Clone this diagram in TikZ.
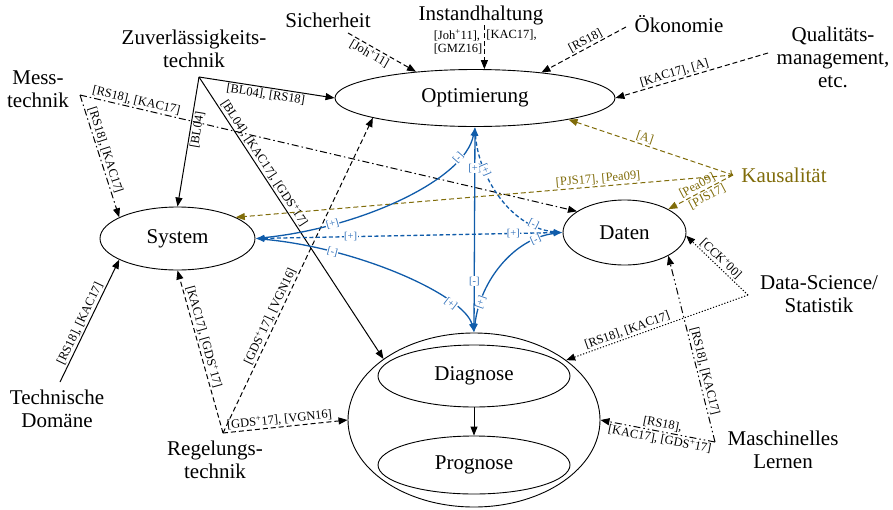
\documentclass[tikz,border=0pt]{standalone}
\usepackage{fontspec}
\setmainfont{Liberation Serif}
\usetikzlibrary{shapes.geometric,arrows.meta}
\definecolor{olv}{RGB}{128,108,10}
\definecolor{blu}{RGB}{16,92,170}
\definecolor{blul}{RGB}{45,110,185}
\begin{document}
\begin{tikzpicture}[x=1pt,y=-1pt,
  ell/.style={draw, ellipse, inner sep=0pt, line width=0.9pt, font=\fontsize{21}{24}\selectfont},
  big/.style={font=\fontsize{21}{23}\selectfont, align=center, inner sep=0pt},
  lbl/.style={font=\fontsize{12.5}{13.5}\selectfont, inner sep=1.5pt, sloped},
  lbln/.style={font=\fontsize{12.5}{13.5}\selectfont, inner sep=1.5pt},
  con/.style={line width=1pt, -{Triangle[length=9pt,width=7pt]}},
  dsh/.style={con, dash pattern=on 5pt off 3pt},
  ddot/.style={con, dash pattern=on 7pt off 3pt on 1.5pt off 3pt},
  dddot/.style={con, dash pattern=on 7pt off 3pt on 1.5pt off 3pt on 1.5pt off 3pt},
  dott/.style={con, dash pattern=on 1.2pt off 1.8pt},
  olvline/.style={olv, line width=1pt, dash pattern=on 5pt off 3pt},
  bl/.style={blu, line width=1.3pt, {Latex[length=9pt,width=6pt]}-{Latex[length=9pt,width=6pt]}},
  bld/.style={bl, dash pattern=on 4pt off 2.5pt},
  bll/.style={font=\fontsize{10.5}{10.5}\selectfont, text=blul, fill=white, inner sep=0.4pt},
]
\useasboundingbox (0,0) rectangle (893,509);

% main ellipses
\node[ell, minimum width=280pt, minimum height=57pt] (opt) at (475,98) {Optimierung};
\node[ell, minimum width=155pt, minimum height=63pt] (sys) at (177.5,238.5) {System};
\node[ell, minimum width=123pt, minimum height=65pt] (dat) at (624.5,232.5) {Daten};
\node[ell, minimum width=252pt, minimum height=174pt] (dia) at (474,420) {};
\node[ell, minimum width=192pt, minimum height=62pt] (diag) at (474,376) {Diagnose};
\node[ell, minimum width=192pt, minimum height=58pt] (prog) at (474,465) {Prognose};

% text nodes
\node[big] (sich) at (328,20) {Sicherheit};
\node[big] (inst) at (481,15) {Instandhaltung};
\node[big] (oek) at (679,24) {Ökonomie};
\node[big] (qual) at (833,57) {Qualitäts-\\management,\\etc.};
\node[big] (zuv) at (194,49) {Zuverlässigkeits-\\technik};
\node[big] (mess) at (38,89) {Mess-\\technik};
\node[big, text=olv] (kau) at (784,175) {Kausalität};
\node[big] (ds) at (819,294) {Data-Science/\\Statistik};
\node[big] (ml) at (783,450) {Maschinelles\\Lernen};
\node[big] (tech) at (57,409) {Technische\\Domäne};
\node[big] (reg) at (215,460) {Regelungs-\\technik};

% corner points
\coordinate (sich-c) at (348,33);
\coordinate (oek-c) at (626,27);
\coordinate (qual-c) at (768,53);
\coordinate (inst-c) at (484,25);
\coordinate (zuv-c) at (199,77);
\coordinate (mess-c) at (80,95);
\coordinate (kau-c) at (733,175);
\coordinate (ds-c) at (748,295);
\coordinate (ml-c) at (715,442);
\coordinate (tech-c) at (60,382);
\coordinate (reg-c) at (223,433);

% black connectors
\draw[dsh] (sich-c) -- (opt.156) node[lbl,pos=.37,below]{[Joh\textsuperscript{+}11]};
\draw[dsh] (opt.72 |- inst-c) -- (opt.72)
  node[lbln,pos=.39,left,align=left]{[Joh\textsuperscript{+}11],\\{}[GMZ16]}
  node[lbln,pos=.22,right]{[KAC17],};
\draw[dsh] (oek-c) -- (opt.21) node[lbl,pos=.44,above]{[RS18]};
\draw[dsh] (qual-c) -- (opt.0) node[lbl,pos=.6,above]{[KAC17], [A]};
\draw[con] (zuv-c) -- (opt.180) node[lbl,pos=.5,below]{[BL04], [RS18]};
\draw[con] (zuv-c) -- (sys.90) node[lbl,pos=.4,below]{[BL04]};
\draw[con] (zuv-c) -- (dia.146.5) node[lbl,pos=.32,above]{[BL04], [KAC17], [GDS\textsuperscript{+}17]};
\draw[ddot] (mess-c) -- (dat.156.5) node[lbl,pos=.11,above]{[RS18], [KAC17]};
\draw[ddot] (mess-c) -- (sys.160) node[lbl,pos=.47,above]{[RS18], [KAC17]};
\draw[con] (tech-c) -- (sys.200) node[lbl,pos=.45,above]{[RS18], [KAC17]};
\draw[dsh] (reg-c) -- (sys.-90) node[lbl,pos=.58,above]{[KAC17], [GDS\textsuperscript{+}17]};
\draw[dsh] (reg-c) -- (opt.191) node[lbl,pos=.36,above]{[GDS\textsuperscript{+}17], [VGN16]};
\draw[dsh] (reg-c) -- (dia.180) node[lbl,pos=.46,above]{[GDS\textsuperscript{+}17], [VGN16]};
\draw[dott] (ds-c) -- (dat.-3) node[lbl,pos=.52,above]{[CCK\textsuperscript{+}00]};
\draw[dott] (ds-c) -- (dia.33.5) node[lbl,pos=.65,above]{[RS18], [KAC17]};
\draw[dddot] (ml-c) -- (dat.-28) node[lbl,pos=.37,above]{[RS18], [KAC17]};
\draw[dddot] (ml-c) -- (dia.0)
  node[lbl,pos=.47,above]{[RS18],}
  node[lbl,pos=.47,below]{[KAC17], [GDS\textsuperscript{+}17]};
\draw[con] (diag.south) -- (prog.north);

% olive connectors
\draw[olvline, {Triangle[length=9pt,width=7pt]}-{To[length=4pt]}] (opt.-13) -- (kau-c)
  node[lbl,pos=.45,above,text=olv]{[A]};
\draw[olvline, -{Triangle[length=9pt,width=7pt]}] (kau-c) -- (sys.20)
  node[lbl,pos=.27,above,text=olv]{[PJS17], [Pea09]};
\draw[olvline, -{Triangle[length=9pt,width=7pt]}] (kau-c) -- (dat.28)
  node[lbl,pos=.5,above,text=olv]{[Pea09]}
  node[lbl,pos=.45,below,text=olv]{[PJS17]};

% blue connectors
\draw[bl] (sys.0) .. controls (360,228) and (465,180) .. (opt.-90)
  node[bll,sloped,pos=.25]{[+]} node[bll,sloped,pos=.8]{[-]};
\draw[bl] (sys.0) .. controls (360,248) and (465,296) .. (dia.90)
  node[bll,sloped,pos=.25]{[-]} node[bll,sloped,pos=.75]{[+]};
\draw[bld] (sys.0) -- (dat.180)
  node[bll,pos=.31]{[+]} node[bll,pos=.84]{[+]};
\draw[bl] (opt.-90) -- (dia.90)
  node[bll,pos=.2]{[+]} node[bll,pos=.75]{[-]};
\draw[bld] (opt.-90) .. controls (478,175) and (510,228) .. (dat.180)
  node[bll,sloped,pos=.3]{[+]} node[bll,sloped,pos=.8]{[-]};
\draw[bl] (dia.90) .. controls (480,280) and (515,238) .. (dat.180)
  node[bll,sloped,pos=.2]{[+]} node[bll,sloped,pos=.8]{[-]};
\end{tikzpicture}
\end{document}
